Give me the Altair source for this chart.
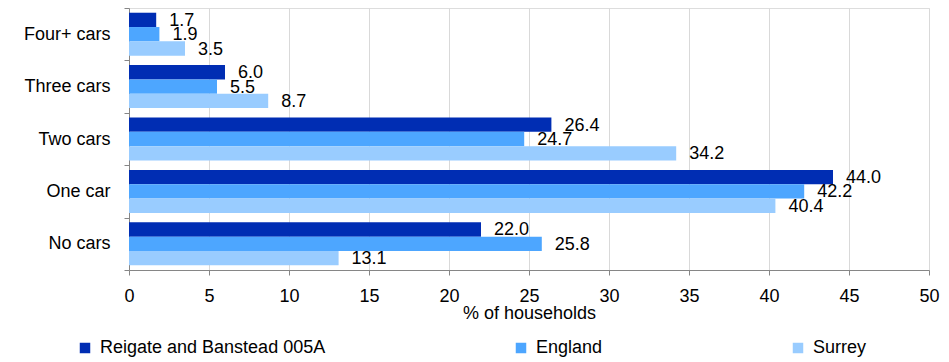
import altair as alt
import pandas as pd

categories = ["Four+ cars", "Three cars", "Two cars", "One car", "No cars"]
series = ["Reigate and Banstead 005A", "England", "Surrey"]
reigate = [1.7, 6.0, 26.4, 44.0, 22.0]
england = [1.9, 5.5, 24.7, 42.2, 25.8]
surrey = [3.5, 8.7, 34.2, 40.4, 13.1]
colors = ["#002db3", "#4da6ff", "#99ccff"]
x_ticks = [0, 5, 10, 15, 20, 25, 30, 35, 40, 45, 50]

rows = []
for vals, s in zip([reigate, england, surrey], series):
    for c, v in zip(categories, vals):
        rows.append({"category": c, "series": s, "value": v})
df = pd.DataFrame(rows)

FONT = "Liberation Sans"

y_enc = alt.Y("category:N", sort=categories, title=None,
              scale=alt.Scale(paddingInner=0, paddingOuter=0),
              axis=alt.Axis(tickBand="extent", labelFontSize=18, labelFont=FONT,
                            labelColor="#000000", domainColor="#868686",
                            tickColor="#868686", tickSize=5, labelPadding=14,
                            grid=False))
yoff = alt.YOffset("series:N", sort=series,
                   scale=alt.Scale(paddingInner=0, paddingOuter=0.33))
x_enc = alt.X("value:Q", title="% of households",
              scale=alt.Scale(domain=[0, 50], nice=False),
              axis=alt.Axis(values=x_ticks, labelFontSize=18, labelFont=FONT,
                            labelColor="#000000", titleFontSize=18, titleFont=FONT,
                            titleColor="#000000", titleFontWeight="normal",
                            domainColor="#868686", tickColor="#868686", tickSize=5,
                            labelPadding=12, titlePadding=-1, labelFlush=False,
                            gridColor="#d9d9d9", grid=True))

base = alt.Chart(df)

bars = base.mark_bar().encode(
    x=x_enc,
    y=y_enc,
    yOffset=yoff,
    color=alt.Color("series:N", sort=series,
                    scale=alt.Scale(domain=series, range=colors),
                    legend=alt.Legend(title=None, orient="none", direction="horizontal",
                                      legendX=-53, legendY=331, labelFontSize=18,
                                      labelFont=FONT, labelColor="#000000",
                                      labelLimit=0,
                                      symbolType="square", symbolSize=110,
                                      symbolStrokeWidth=0, columnPadding=186,
                                      labelOffset=6)),
)

labels = base.mark_text(align="left", baseline="middle", dx=13, dy=1,
                        fontSize=18, font=FONT, color="#000000").encode(
    x="value:Q",
    y=alt.Y("category:N", sort=categories),
    yOffset=yoff,
    text=alt.Text("value:Q", format=".1f"),
)

chart = (bars + labels).properties(
    width=800, height=262,
    autosize=alt.AutoSizeParams(type="none"),
    padding={"left": 121, "top": 0, "right": 12, "bottom": 88},
).configure_view(stroke=None).configure(background="white")

chart.save("out.html", embed_options={"renderer": "svg", "actions": False})
